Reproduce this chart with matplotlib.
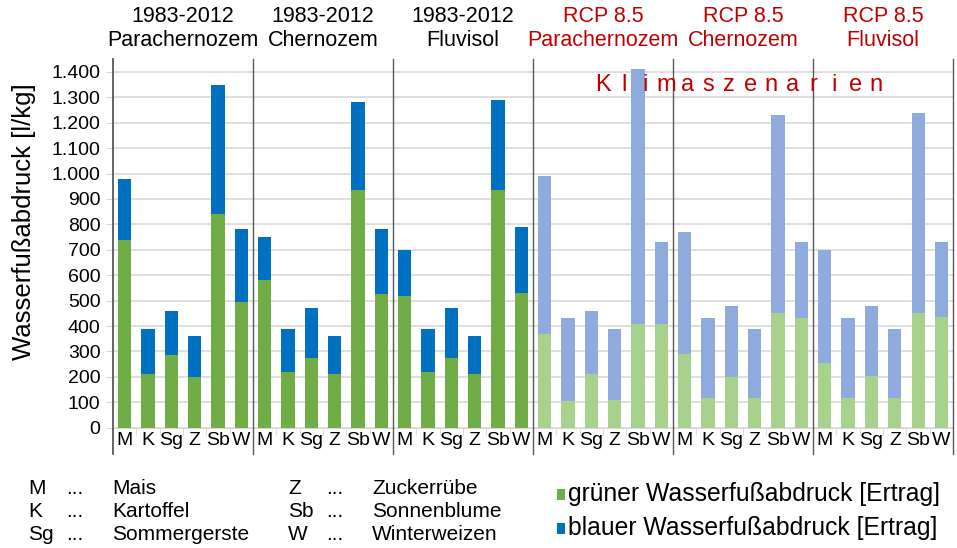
import numpy as np
import matplotlib
matplotlib.use('Agg')
import matplotlib.pyplot as plt
from matplotlib import font_manager
from matplotlib.patches import Rectangle

# Font: narrow Arial-like if available
names = {f.name for f in font_manager.fontManager.ttflist}
fam = 'Liberation Sans Narrow' if 'Liberation Sans Narrow' in names else 'Liberation Sans'
plt.rcParams['font.family'] = [fam, 'DejaVu Sans']

crops = ['M', 'K', 'Sg', 'Z', 'Sb', 'W']
header_top = ['1983-2012', '1983-2012', '1983-2012', 'RCP 8.5', 'RCP 8.5', 'RCP 8.5']
header_soil = ['Parachernozem', 'Chernozem', 'Fluvisol', 'Parachernozem', 'Chernozem', 'Fluvisol']

# total and green water footprint per group (l/kg)
total = [
    [980, 390, 460, 360, 1350, 780],
    [750, 390, 470, 360, 1280, 780],
    [700, 390, 470, 360, 1290, 790],
    [990, 430, 460, 390, 1410, 730],
    [770, 430, 480, 390, 1230, 730],
    [700, 430, 480, 390, 1240, 730],
]
green = [
    [740, 210, 285, 200, 840, 495],
    [580, 220, 275, 210, 935, 525],
    [520, 220, 275, 210, 935, 530],
    [370, 105, 210, 110, 410, 410],
    [290, 115, 200, 115, 450, 430],
    [255, 115, 205, 115, 450, 435],
]

legend_abbr = [('M', 'Mais'), ('K', 'Kartoffel'), ('Sg', 'Sommergerste'),
               ('Z', 'Zuckerrübe'), ('Sb', 'Sonnenblume'), ('W', 'Winterweizen')]

col_green = '#70AD47'
col_blue = '#0070C0'
col_green_l = '#A9D18E'
col_blue_l = '#8FAADC'
red = '#C00000'

fig = plt.figure(figsize=(9.57, 5.48), dpi=100)
ax = fig.add_axes([0.118, 0.2195, 0.878, 0.6725])

n = len(crops)
for g in range(len(total)):
    x = np.arange(n) + g * n
    tot = np.array(total[g])
    gr = np.array(green[g])
    cg, cb = (col_green, col_blue) if g < 3 else (col_green_l, col_blue_l)
    ax.bar(x, gr, width=0.57, color=cg, zorder=3)
    ax.bar(x, tot - gr, bottom=gr, width=0.57, color=cb, zorder=3)

ax.set_xlim(-0.5, len(total) * n - 0.5)
ax.set_ylim(0, 1450)
ax.set_yticks(np.arange(0, 1401, 100))
ax.set_yticklabels([f'{v:,}'.replace(',', '.') for v in range(0, 1401, 100)], fontsize=14)
ax.yaxis.grid(True, color='#D9D9D9', linewidth=1.2, zorder=0)
ax.tick_params(axis='y', length=5, color='#D9D9D9', pad=4)

ax.set_xticks(np.arange(len(total) * n))
ax.set_xticklabels(crops * len(total), fontsize=14)
ax.tick_params(axis='x', length=0, pad=3)
ax.set_xticks(np.arange(len(total) * n + 1) - 0.5, minor=True)
ax.tick_params(axis='x', which='minor', length=5, color='#D9D9D9')

for s in ['top', 'right', 'left']:
    ax.spines[s].set_visible(False)
ax.spines['bottom'].set_color('#D9D9D9')

# group separators, extending below the axis
for g in range(len(total) + 1):
    xs = g * n - 0.5
    ax.plot([xs, xs], [-105, 1450], color='#595959', linewidth=1.3 if g == 0 else 1.0,
            clip_on=False, zorder=4)

# group headers
for g in range(len(total)):
    xc = g * n + (n - 1) / 2
    c = 'black' if g < 3 else red
    ax.text(xc, 1 - 6 / 548, header_top[g], transform=ax.get_xaxis_transform(),
            ha='center', va='top', fontsize=15.5, color=c)
    ax.text(xc, 1 - 30 / 548, header_soil[g], transform=ax.get_xaxis_transform(),
            ha='center', va='top', fontsize=15.5, color=c)
for t in ax.texts:
    t.set_transform(matplotlib.transforms.blended_transform_factory(ax.transData, fig.transFigure))

# spaced "Klimaszenarien"
word = 'Klimaszenarien'
x0, step = 20.5, 0.9
for i, ch in enumerate(word):
    ax.text(x0 + i * step, 1350, ch, ha='center', va='center', fontsize=17, color=red, zorder=5)

ax.set_ylabel('Wasserfußabdruck [l/kg]', fontsize=18.5)
ax.yaxis.set_label_coords(-0.092, 0.56)

# abbreviation legend
rows_y = [0.108, 0.066, 0.024]
for i, (a, nm) in enumerate(legend_abbr):
    col = i // 3
    r = i % 3
    bx = 0.029 + col * 0.272
    fig.text(bx, rows_y[r], a, fontsize=15, va='center')
    fig.text(bx + 0.040, rows_y[r], '...', fontsize=15, va='center')
    fig.text(bx + 0.088, rows_y[r], nm, fontsize=15, va='center')

# series legend
for yy, cc, lab in [(0.098, col_green, 'grüner Wasserfußabdruck [Ertrag]'),
                    (0.036, col_blue, 'blauer Wasserfußabdruck [Ertrag]')]:
    fig.patches.append(Rectangle((0.582, yy - 0.010), 0.0085, 0.019, transform=fig.transFigure,
                                 facecolor=cc, edgecolor='none'))
    fig.text(0.594, yy, lab, fontsize=17.8, va='center')

fig.savefig('out.png', dpi=100)
